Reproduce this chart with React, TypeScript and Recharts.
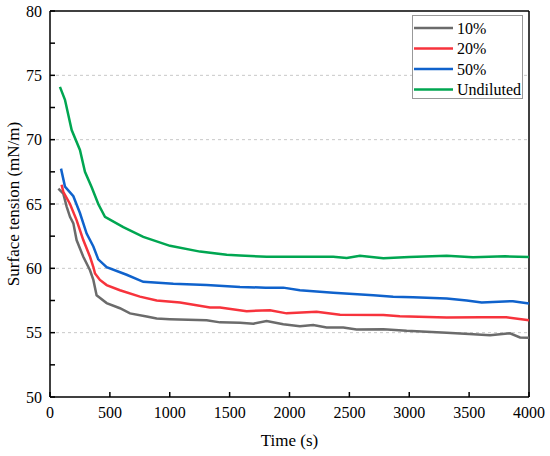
import { Legend, Line, LineChart, ReferenceLine, XAxis, YAxis } from "recharts";

// time (s) and surface tension (mN/m) per dilution
const tGray = [70, 111, 139, 167, 195, 222, 278, 334, 362, 389, 473, 584, 668, 807, 891, 1000, 1308, 1420, 1587, 1698, 1809, 1948, 2087, 2198, 2310, 2449, 2560, 2784, 2978, 3313, 3500, 3675, 3841, 3925, 4000];
const vGray = [66.2, 65.8, 64.8, 64.0, 63.5, 62.2, 60.9, 59.85, 59.1, 57.9, 57.3, 56.9, 56.5, 56.25, 56.1, 56.05, 55.97, 55.8, 55.77, 55.7, 55.9, 55.65, 55.5, 55.6, 55.4, 55.4, 55.25, 55.27, 55.14, 55.0, 54.9, 54.8, 54.95, 54.63, 54.6];

const tRed = [97, 111, 167, 222, 278, 334, 362, 376, 417, 473, 584, 751, 891, 1086, 1336, 1420, 1642, 1837, 1976, 2226, 2422, 2784, 2922, 3313, 3600, 3810, 4000];
const vRed = [66.5, 65.95, 65.0, 63.75, 62.2, 60.9, 60.1, 59.6, 59.1, 58.7, 58.3, 57.8, 57.5, 57.35, 56.95, 56.95, 56.67, 56.75, 56.5, 56.63, 56.4, 56.37, 56.28, 56.18, 56.2, 56.2, 55.97];

const tBlue = [92, 125, 195, 250, 306, 362, 403, 473, 640, 779, 1030, 1308, 1587, 1800, 1948, 2087, 2365, 2700, 2866, 3032, 3313, 3480, 3605, 3866, 4000];
const vBlue = [67.75, 66.35, 65.6, 64.3, 62.7, 61.7, 60.7, 60.1, 59.5, 58.95, 58.8, 58.7, 58.55, 58.5, 58.5, 58.3, 58.1, 57.9, 57.8, 57.75, 57.65, 57.5, 57.35, 57.45, 57.27];

const tGreen = [83, 125, 181, 250, 292, 348, 403, 459, 612, 779, 1002, 1253, 1476, 1587, 1809, 2365, 2478, 2588, 2784, 3000, 3313, 3532, 3800, 4000];
const vGreen = [74.1, 73.1, 70.75, 69.2, 67.5, 66.3, 65.0, 64.0, 63.2, 62.45, 61.75, 61.3, 61.05, 61.0, 60.9, 60.9, 60.8, 60.97, 60.78, 60.88, 60.97, 60.87, 60.93, 60.88];

const xTicks = [0, 500, 1000, 1500, 2000, 2500, 3000, 3500, 4000];
const yTicks = [50, 52.5, 55, 57.5, 60, 62.5, 65, 67.5, 70, 72.5, 75, 77.5, 80];
const gridValues = [55, 60, 65, 70, 75];

const TEXT = { fontFamily: "Liberation Serif", fontWeight: 400 };

const zip = (t: number[], v: number[]) => t.map((time, i) => ({ t: time, v: v[i] }));

const SERIES = [
  { name: "10%", color: "#6b6b6b", data: zip(tGray, vGray) },
  { name: "20%", color: "#f7333c", data: zip(tRed, vRed) },
  { name: "50%", color: "#0f62cc", data: zip(tBlue, vBlue) },
  { name: "Undiluted", color: "#00a651", data: zip(tGreen, vGreen) },
];

function XTick({ x, y, payload }: any) {
  const axisY = y - 10;
  return (
    <g>
      <line x1={x} x2={x} y1={axisY} y2={axisY - 5} stroke="#000" strokeWidth={1.5} />
      <text x={x} y={axisY + 21} textAnchor="middle" fontSize={16} style={TEXT} fill="#000">
        {payload.value}
      </text>
    </g>
  );
}

function YTick({ x, y, payload }: any) {
  const axisX = x + 8;
  const major = payload.value % 5 === 0;
  return (
    <g>
      <line x1={axisX} x2={axisX + 5} y1={y} y2={y} stroke="#000" strokeWidth={1.5} />
      {major && (
        <text x={x} y={y + 5.5} textAnchor="end" fontSize={16} style={TEXT} fill="#000">
          {payload.value}
        </text>
      )}
    </g>
  );
}

function LegendBox({ payload }: any) {
  return (
    <div style={{ border: "1px solid #999", background: "#fff", height: 84, boxSizing: "border-box" }}>
      <svg width={109} height={82}>
        {(payload || []).map((item: any, i: number) => {
          const cy = 12 + i * 20.5;
          return (
            <g key={item.value}>
              <line x1={1} x2={40} y1={cy} y2={cy} stroke={item.color} strokeWidth={2.5} />
              <text x={44} y={cy + 5.5} fontSize={16} style={TEXT} fill="#000">
                {item.value}
              </text>
            </g>
          );
        })}
      </svg>
    </div>
  );
}

export default function App() {
  return (
    <div style={{ position: "absolute", left: 0, top: 0, width: 550, height: 456, background: "#fff" }}>
      <LineChart width={550} height={456} margin={{ top: 11, right: 21, bottom: 0, left: 0 }}>
        {gridValues.map((v) => (
          <ReferenceLine key={v} y={v} stroke="#c8c8c8" strokeDasharray="3 3" strokeWidth={1} />
        ))}
        <XAxis
          dataKey="t"
          type="number"
          domain={[0, 4000]}
          ticks={xTicks}
          height={59}
          tickSize={0}
          tickMargin={10}
          tick={<XTick />}
          axisLine={{ stroke: "#000", strokeWidth: 1.5 }}
          allowDuplicatedCategory={false}
          label={{
            content: () => (
              <text x={289.5} y={446} textAnchor="middle" fontSize={17} style={TEXT} fill="#000">
                Time (s)
              </text>
            ),
          }}
        />
        <YAxis
          type="number"
          domain={[50, 80]}
          ticks={yTicks}
          width={50}
          tickSize={0}
          tickMargin={8}
          tick={<YTick />}
          axisLine={{ stroke: "#000", strokeWidth: 1.5 }}
          label={{
            content: () => (
              <text
                x={19}
                y={204}
                transform="rotate(-90 19 204)"
                textAnchor="middle"
                fontSize={17}
                style={TEXT}
                fill="#000"
              >
                Surface tension (mN/m)
              </text>
            ),
          }}
        />
        <ReferenceLine y={80} stroke="#000" strokeWidth={1.5} />
        <ReferenceLine x={4000} stroke="#000" strokeWidth={1.5} />
        {SERIES.map((s) => (
          <Line
            key={s.name}
            data={s.data}
            dataKey="v"
            name={s.name}
            type="linear"
            stroke={s.color}
            strokeWidth={2.5}
            dot={false}
            isAnimationActive={false}
          />
        ))}
        <Legend
          layout="horizontal"
          verticalAlign="middle"
          align="center"
          wrapperStyle={{ top: 15, left: 412, width: 111, height: 84 }}
          content={<LegendBox />}
        />
      </LineChart>
    </div>
  );
}
